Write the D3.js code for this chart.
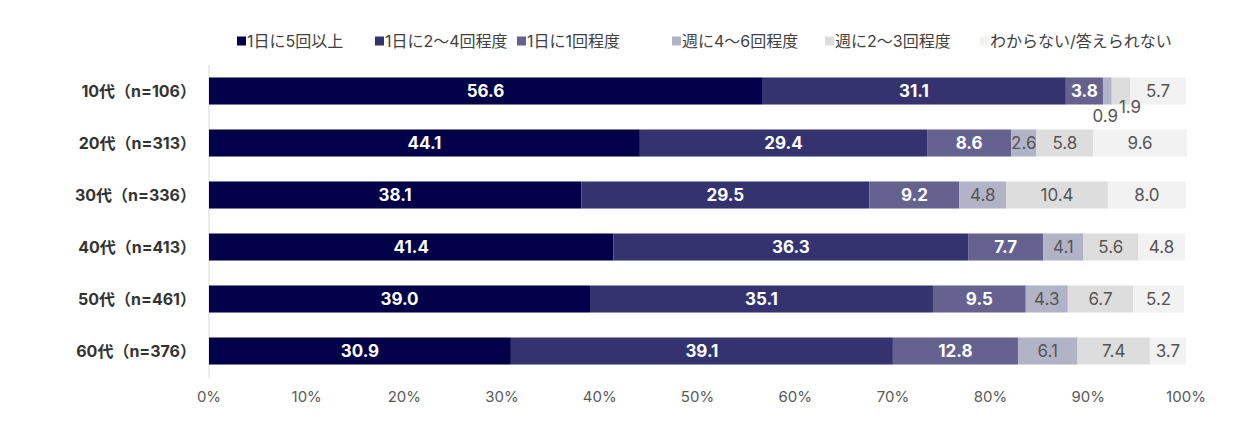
<!DOCTYPE html>
<html>
<head>
<meta charset="utf-8">
<script src="https://cdn.jsdelivr.net/npm/d3@7"></script>
<style>
  body { margin: 0; background: #fff; }
  text { font-family: "Inter", "Noto Sans CJK JP", sans-serif; }
</style>
</head>
<body>
<div id="chart"></div>
<script>
// data
var ages = ["10代（n=106）", "20代（n=313）", "30代（n=336）", "40代（n=413）", "50代（n=461）", "60代（n=376）"];
var seriesNames = ["1日に5回以上", "1日に2～4回程度", "1日に1回程度", "週に4～6回程度", "週に2～3回程度", "わからない/答えられない"];
var fiveOrMore = [56.6, 44.1, 38.1, 41.4, 39.0, 30.9];
var twoToFour  = [31.1, 29.4, 29.5, 36.3, 35.1, 39.1];
var oncePerDay = [3.8, 8.6, 9.2, 7.7, 9.5, 12.8];
var weekly4to6 = [0.9, 2.6, 4.8, 4.1, 4.3, 6.1];
var weekly2to3 = [1.9, 5.8, 10.4, 5.6, 6.7, 7.4];
var unknown    = [5.7, 9.6, 8.0, 4.8, 5.2, 3.7];
var xTicks = [0, 10, 20, 30, 40, 50, 60, 70, 80, 90, 100];

var colors = ["#03004a", "#35336f", "#65628f", "#b3b3c8", "#dddddd", "#f2f2f2"];
var labelColors = ["#fff", "#fff", "#fff", "#555", "#555", "#555"];

var width = 1244, height = 434;

var svg = d3.select("#chart")
  .append("svg")
    .attr("width", width)
    .attr("height", height);

var x = d3.scaleLinear()
  .domain([0, 100])
  .range([209, 1186]);

var y = d3.scaleBand()
  .domain(ages)
  .range([65, 377])
  .paddingInner(0.48)
  .paddingOuter(0.24);

// build rows of stacked values
var series = [fiveOrMore, twoToFour, oncePerDay, weekly4to6, weekly2to3, unknown];
var rows = ages.map(function(a, i) {
  var r = { age: a };
  seriesNames.forEach(function(s, j) { r[s] = series[j][i]; });
  return r;
});
var stacked = d3.stack().keys(seriesNames)(rows);

// axis line
svg.append("line")
  .attr("x1", x(0)).attr("x2", x(0))
  .attr("y1", 65).attr("y2", 378)
  .attr("stroke", "#d9d9d9")
  .attr("stroke-width", 1);

// bars
var layers = svg.append("g")
  .selectAll("g")
  .data(stacked)
  .enter()
  .append("g")
    .attr("fill", function(d, i) { return colors[i]; });

layers.selectAll("rect")
  .data(function(d) { return d; })
  .enter()
  .append("rect")
    .attr("x", function(d) { return x(d[0]); })
    .attr("y", function(d) { return y(d.data.age); })
    .attr("width", function(d) { return x(d[1]) - x(d[0]); })
    .attr("height", y.bandwidth());

// value labels
stacked.forEach(function(layer, i) {
  layer.forEach(function(d) {
    var v = d[1] - d[0];
    var cx = (x(d[0]) + x(d[1])) / 2;
    var cy = y(d.data.age) + y.bandwidth() / 2;
    var col = labelColors[i];
    // tiny segments get their label pushed below the bar
    if (v < 1) { cx -= 2; cy += 25; col = "#555"; }
    else if (v < 2) { cx += 9; cy += 16; col = "#555"; }
    svg.append("text")
      .attr("x", cx)
      .attr("y", cy)
      .attr("dy", "0.36em")
      .attr("text-anchor", "middle")
      .attr("font-size", 17)
      .attr("font-weight", i < 3 ? 700 : 400)
      .attr("fill", col)
      .text(v.toFixed(1));
  });
});

// row labels
svg.append("g")
  .selectAll("text")
  .data(ages)
  .enter()
  .append("text")
    .attr("x", 196)
    .attr("y", function(d) { return y(d) + y.bandwidth() / 2; })
    .attr("dy", "0.36em")
    .attr("text-anchor", "end")
    .attr("font-size", 16)
    .attr("font-weight", 700)
    .attr("fill", "#333")
    .text(function(d) { return d; });

// x tick labels
svg.append("g")
  .selectAll("text")
  .data(xTicks)
  .enter()
  .append("text")
    .attr("x", function(d) { return x(d); })
    .attr("y", 397)
    .attr("dy", "0.36em")
    .attr("text-anchor", "middle")
    .attr("font-size", 15)
    .attr("fill", "#595959")
    .text(function(d) { return d + "%"; });

// legend
var legendX = [237, 375, 517, 672, 825, 980];
var legend = svg.append("g")
  .selectAll("g")
  .data(seriesNames)
  .enter()
  .append("g")
    .attr("transform", function(d, i) { return "translate(" + legendX[i] + ",41)"; });

legend.append("rect")
  .attr("x", 0).attr("y", -4.5)
  .attr("width", 9).attr("height", 9)
  .attr("fill", function(d, i) { return colors[i]; });

legend.append("text")
  .attr("x", 10)
  .attr("y", 0)
  .attr("dy", "0.36em")
  .attr("font-size", 16)
  .attr("fill", "#404040")
  .text(function(d) { return d; });
</script>
</body>
</html>
